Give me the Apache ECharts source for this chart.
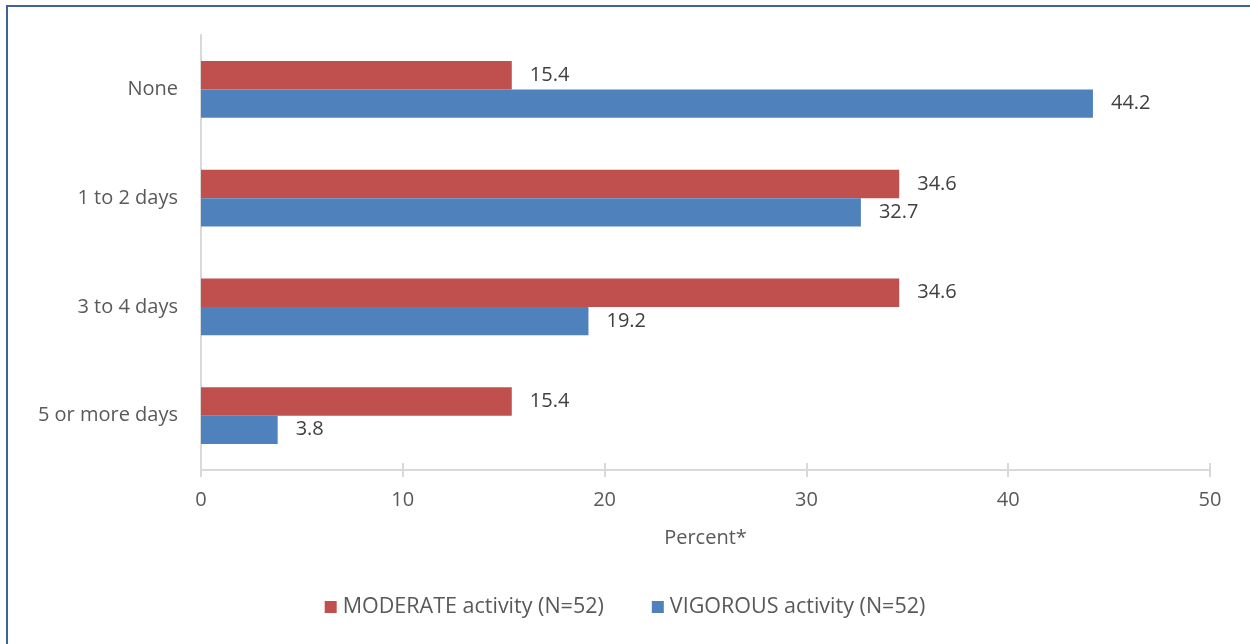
<!DOCTYPE html>
<html>
<head>
<meta charset="utf-8">
<script src="https://cdn.jsdelivr.net/npm/echarts@6/dist/echarts.min.js"></script>
<style>
  html,body{margin:0;padding:0;background:#fff;overflow:hidden}
  #frame{position:absolute;left:6px;top:5px;width:1400px;height:800px;border-left:2px solid #3B6497;border-top:2px solid #3B6497}
  #chart{position:absolute;left:0;top:0;width:1250px;height:644px}
</style>
</head>
<body>
<div id="frame"></div>
<div id="chart"></div>
<script>
  // 数据
  const categories = ['None', '1 to 2 days', '3 to 4 days', '5 or more days'];
  const moderate = [15.4, 34.6, 34.6, 15.4];
  const vigorous = [44.2, 32.7, 19.2, 3.8];
  const seriesNames = ['MODERATE activity (N=52)', 'VIGOROUS activity (N=52)'];
  const xTicks = [0, 10, 20, 30, 40, 50];

  const font = '"Open Sans", "Liberation Sans", sans-serif';
  const label = {show:true, position:'right', distance:18, color:'#404040', fontSize:20, fontFamily:font};
  const xMin = xTicks[0], xMax = xTicks[xTicks.length-1];

  const chart = echarts.init(document.getElementById('chart'));
  chart.setOption({
    animation:false,
    grid:{left:201, right:40, top:35, bottom:174, containLabel:false},
    legend:{
      bottom:21, left:'center', itemWidth:12, itemHeight:12, itemGap:48,
      icon:'rect',
      textStyle:{color:'#595959', fontSize:21.5, fontFamily:font, padding:[0,0,0,1]},
      data:seriesNames
    },
    xAxis:[{
      type:'value', min:xMin, max:xMax, interval:10,
      name:'Percent*', nameLocation:'middle', nameGap:58,
      nameTextStyle:{color:'#595959', fontSize:20, fontFamily:font},
      axisLine:{show:true, lineStyle:{color:'#D9D9D9', width:2}},
      axisTick:{show:true, length:7, lineStyle:{color:'#D9D9D9', width:2}},
      axisLabel:{color:'#595959', fontSize:20, fontFamily:font, margin:20},
      splitLine:{show:false}
    },{
      // 只用来画轴线上方的刻度
      type:'value', min:xMin, max:xMax, interval:10, position:'bottom',
      axisLine:{show:false},
      axisTick:{show:true, inside:true, length:7, lineStyle:{color:'#D9D9D9', width:2}},
      axisLabel:{show:false},
      splitLine:{show:false}
    }],
    yAxis:{
      type:'category', data:categories, inverse:true,
      axisLine:{show:true, lineStyle:{color:'#D9D9D9', width:2}},
      axisTick:{show:false},
      axisLabel:{color:'#595959', fontSize:20, fontFamily:font, margin:23}
    },
    series:[
      {name:seriesNames[0], type:'bar', data:moderate, barGap:'0%', barCategoryGap:'48%',
       itemStyle:{color:'#C0504D'}, label:label},
      {name:seriesNames[1], type:'bar', data:vigorous, barGap:'0%', barCategoryGap:'48%',
       itemStyle:{color:'#4F81BD'}, label:label}
    ]
  });
</script>
</body>
</html>
